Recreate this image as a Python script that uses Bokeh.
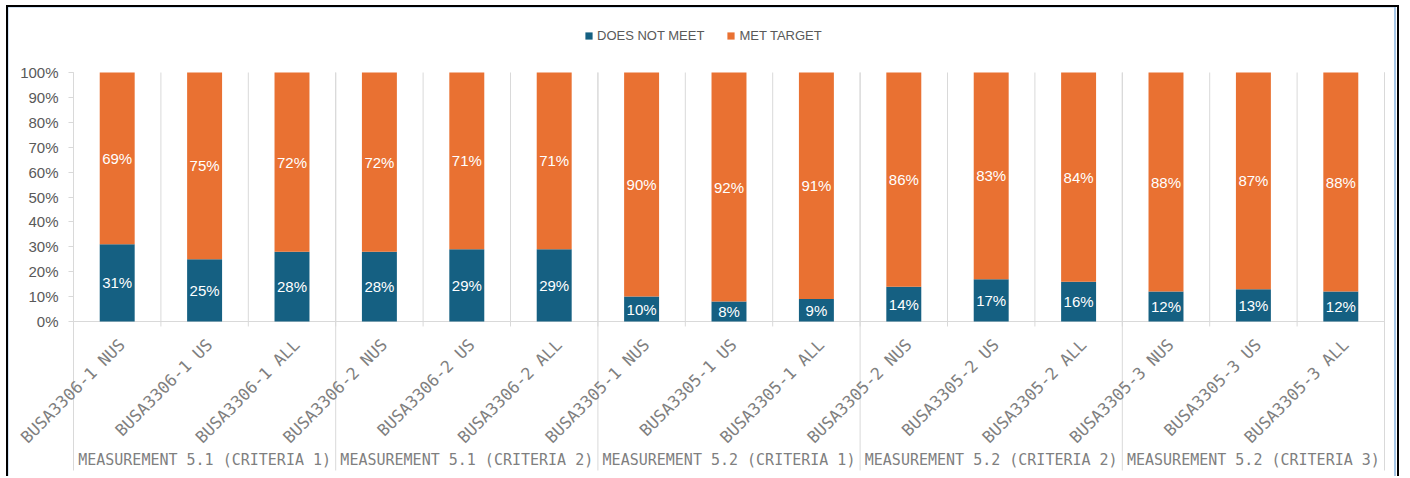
import math
from bokeh.plotting import figure
from bokeh.models import (Range1d, ColumnDataSource, Legend, LegendItem,
                          FixedTicker, PrintfTickFormatter)
from bokeh.core.properties import value
from bokeh.embed import file_html
from bokeh.resources import INLINE

# ---------------- data ----------------
groups = ["MEASUREMENT 5.1 (CRITERIA 1)", "MEASUREMENT 5.1 (CRITERIA 2)",
          "MEASUREMENT 5.2 (CRITERIA 1)", "MEASUREMENT 5.2 (CRITERIA 2)",
          "MEASUREMENT 5.2 (CRITERIA 3)"]
categories = ["BUSA3306-1 NUS", "BUSA3306-1 US", "BUSA3306-1 ALL",
              "BUSA3306-2 NUS", "BUSA3306-2 US", "BUSA3306-2 ALL",
              "BUSA3305-1 NUS", "BUSA3305-1 US", "BUSA3305-1 ALL",
              "BUSA3305-2 NUS", "BUSA3305-2 US", "BUSA3305-2 ALL",
              "BUSA3305-3 NUS", "BUSA3305-3 US", "BUSA3305-3 ALL"]
does_not_meet = [31, 25, 28, 28, 29, 29, 10, 8, 9, 14, 17, 16, 12, 13, 12]
met_target = [69, 75, 72, 72, 71, 71, 90, 92, 91, 86, 83, 84, 88, 87, 88]
series_names = ["DOES NOT MEET", "MET TARGET"]
y_ticks = [0, 10, 20, 30, 40, 50, 60, 70, 80, 90, 100]

# ---------------- styling ----------------
BLUE = "#156082"
ORANGE = "#E97132"
GRID = "#d9d9d9"
per_group = len(categories) // len(groups)
n = len(categories)

# category slots: one unit per category, centre at index + 0.5
xc = [i + 0.5 for i in range(n)]
gx = [g * per_group + per_group / 2 for g in range(len(groups))]

src = ColumnDataSource(dict(
    x=xc,
    dnm=does_not_meet,
    met=met_target,
    dnm_mid=[d / 2 for d in does_not_meet],
    met_mid=[d + m / 2 for d, m in zip(does_not_meet, met_target)],
    dnm_lbl=[f"{d}%" for d in does_not_meet],
    met_lbl=[f"{m}%" for m in met_target],
))

PX = 2.49   # pixels per percent
UX = 87.4   # pixels per category
p = figure(
    x_range=Range1d(-(73 - 8) / UX, (1401 - 73) / UX),
    y_range=Range1d(-(478 - 321) / PX, 100 + (72 - 7) / PX),
    width=1393, height=471,
    min_border_left=0, min_border_right=0, min_border_top=0, min_border_bottom=0,
    x_axis_location=None, toolbar_location=None, output_backend="svg",
)
p.styles = {"margin-left": "6px", "margin-top": "5px",
            "padding-right": "3px",
            "background": "linear-gradient(to left, white 1px, #a7c7e7 1px)",
            "border-left": "2px solid black", "border-top": "2px solid black",
            "border-right": "2px solid black"}
p.outline_line_color = None
p.xgrid.visible = False
p.ygrid.visible = False

# separators
bounds = list(range(n + 1))
p.segment(x0=bounds, x1=bounds, y0=[100] * len(bounds), y1=[-2] * len(bounds),
          line_color=GRID, line_width=1)
gb = bounds[::per_group]
p.segment(x0=gb, x1=gb, y0=[100] * len(gb), y1=[-(470 - 321) / PX] * len(gb),
          line_color=GRID, line_width=1)
p.segment(x0=[0], x1=[n], y0=[0], y1=[0], line_color=GRID, line_width=1)

rs = p.vbar_stack(["dnm", "met"], x="x", width=0.4, color=[BLUE, ORANGE],
                  line_color=None, source=src)

# data labels
for ycol, lcol in (("dnm_mid", "dnm_lbl"), ("met_mid", "met_lbl")):
    p.text(x="x", y=ycol, text=lcol, source=src, text_align="center",
           text_baseline="middle", text_color="white",
           text_font=value("Liberation Sans"), text_font_size="15px")

# category labels (rotated)
p.text(x=xc, y=[-(341.5 - 321) / PX] * n, text=categories, angle=math.pi / 4,
       x_offset=5, text_align="right", text_baseline="middle",
       text_color="#7f7f7f", text_font=value("DejaVu Sans Mono"),
       text_font_size="16.5px")

# group labels
p.text(x=gx, y=[-(459 - 321) / PX] * len(groups), text=groups,
       text_align="center", text_baseline="middle", text_color="#7f7f7f",
       text_font=value("DejaVu Sans Mono"), text_font_size="15px")

# y axis, pinned at the first category boundary
ax = p.yaxis[0]
ax.fixed_location = 0
ax.ticker = FixedTicker(ticks=y_ticks)
ax.bounds = (0, 100)
ax.formatter = PrintfTickFormatter(format="%d%%")
ax.axis_line_color = None
ax.major_tick_line_color = GRID
ax.major_tick_in = 0
ax.major_tick_out = 5
ax.minor_tick_line_color = None
ax.major_label_standoff = 10
ax.major_label_text_font = "Liberation Sans"
ax.major_label_text_font_size = "15px"
ax.major_label_text_color = "#595959"

legend = Legend(
    items=[LegendItem(label=series_names[0], renderers=[rs[0]]),
           LegendItem(label=series_names[1], renderers=[rs[1]])],
    orientation="horizontal", location=(576, 435), padding=0, margin=0,
    spacing=22, label_standoff=4, glyph_width=9, glyph_height=9,
    border_line_color=None, background_fill_alpha=0,
    label_text_font="Liberation Sans", label_text_font_size="13px",
    label_text_color="#595959",
)
p.add_layout(legend)

open("out.html", "w").write(file_html(p, INLINE))
